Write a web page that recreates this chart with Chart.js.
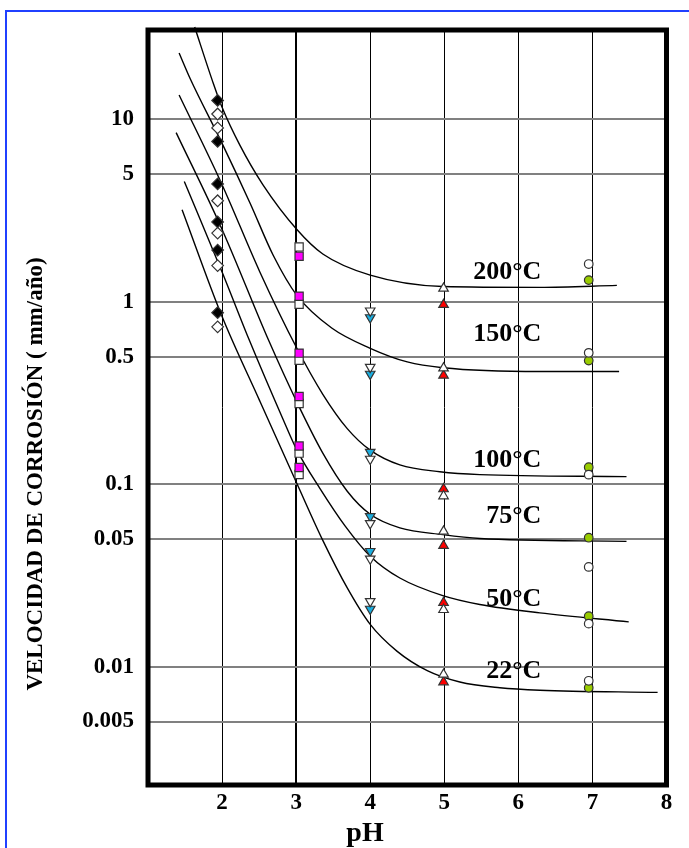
<!DOCTYPE html>
<html>
<head>
<meta charset="utf-8">
<script src="https://cdn.jsdelivr.net/npm/chart.js@4.4.0/dist/chart.umd.min.js"></script>
<style>
  html, body { margin: 0; padding: 0; background: #fff; overflow: hidden; }
  #wrap { position: relative; width: 689px; height: 848px; }
  #frame { position: absolute; left: 5px; top: 10px; width: 720px; height: 880px;
           border-left: 2px solid #2040ff; border-top: 2px solid #2040ff; }
  #myChart { position: absolute; left: 0; top: 0; }
</style>
</head>
<body>
<div id="wrap">
  <div id="frame"></div>
  <canvas id="myChart" width="689" height="848"></canvas>
</div>
<script>
var xTicks = [2, 3, 4, 5, 6, 7, 8];
var yTicks = [0.005, 0.01, 0.05, 0.1, 0.5, 1, 5, 10];
var yTickLabels = ['0.005', '0.01', '0.05', '0.1', '0.5', '1', '5', '10'];

var temps = ['200°C', '150°C', '100°C', '75°C', '50°C', '22°C'];

// fitted curves (pH, mm/año)
var curvePH = [
  [1.63, 1.87, 2.0, 2.24, 2.55, 3.01, 3.36, 4.0, 4.98, 6.29, 7.33],
  [1.42, 1.57, 2.0, 2.38, 2.69, 3.01, 3.48, 4.0, 4.5, 4.98, 6.29, 7.36],
  [1.42, 2.0, 2.51, 3.01, 3.36, 3.69, 4.0, 4.4, 4.94, 5.48, 7.46],
  [1.38, 2.0, 2.63, 3.01, 3.36, 3.69, 4.0, 4.4, 4.98, 5.48, 7.46],
  [1.49, 2.0, 2.37, 2.82, 3.01, 3.32, 3.66, 4.0, 4.4, 4.98, 5.48, 6.29, 7.49],
  [1.46, 2.0, 2.51, 3.01, 3.36, 3.69, 4.0, 4.36, 4.77, 5.21, 5.75, 6.29, 7.88]
];
var curveVal = [
  [32.1, 16.26, 11.64, 7.22, 4.39, 2.49, 1.828, 1.40, 1.213, 1.20, 1.23],
  [23.1, 16.7, 7.39, 3.46, 1.80, 1.084, 0.718, 0.556, 0.468, 0.435, 0.415, 0.415],
  [13.6, 4.385, 1.458, 0.556, 0.3112, 0.2018, 0.1537, 0.1276, 0.117, 0.1128, 0.110],
  [8.46, 2.493, 0.613, 0.2818, 0.148, 0.0915, 0.0684, 0.0576, 0.0529, 0.0504, 0.0486],
  [4.56, 1.458, 0.613, 0.2284, 0.1537, 0.0949, 0.0591, 0.0403, 0.0306, 0.0245, 0.0219, 0.0197, 0.0176],
  [3.20, 0.830, 0.2854, 0.1009, 0.0492, 0.027, 0.01703, 0.01216, 0.0095, 0.00823, 0.00766, 0.00742, 0.00722]
];

// measured points, one per temperature (200, 150, 100, 75, 50, 22 °C)
var diamondPH = 1.94;
var diamondFilled = [12.7, 7.57, 4.43, 2.74, 1.92, 0.872];
var diamondOpen = [10.7, 8.98, 3.58, 2.38, 1.58, 0.729];
var squarePH = 3.04;
var squareMagenta = [1.776, 1.073, 0.523, 0.3025, 0.162, 0.1235];
var squareWhite = [2.0, 0.969, 0.478, 0.277, 0.148, 0.113];
var triDownPH = 4.0;
var triDownWhite = [0.893, 0.4385, 0.1375, 0.061, 0.039, 0.0228];
var triDownCyan = [0.820, 0.402, 0.150, 0.0667, 0.0429, 0.0207];
var triUpPH = 4.99;
var triUpWhite = [1.185, 0.433, 0.0861, 0.0551, 0.0205, 0.00906];
var triUpRed = [0.964, 0.395, 0.0941, 0.046, 0.0224, 0.00823];
var circlePH = 6.95;
var circleWhite = [1.61, 0.525, 0.1128, 0.0352, 0.0172, 0.00836];
var circleGreen = [1.315, 0.476, 0.124, 0.0509, 0.0189, 0.00766];

// where the temperature names sit
var labelPH = 6.31;
var labelVal = [1.458, 0.667, 0.136, 0.0667, 0.02326, 0.00939];

function pts(xs, ys) {
  return xs.map(function (x, i) { return {x: x, y: ys[i]}; });
}
function atPH(x, ys) {
  return ys.map(function (y) { return {x: x, y: y}; });
}

var datasets = [];
curvePH.forEach(function (xs, i) {
  datasets.push({
    label: temps[i],
    data: pts(xs, curveVal[i]),
    showLine: true,
    borderColor: '#000',
    borderWidth: 1.4,
    pointRadius: 0,
    cubicInterpolationMode: 'monotone',
    clip: false,
    order: 2
  });
});

function markers(data, style, fill, radius, rotation) {
  return {
    data: data,
    pointStyle: style,
    pointRadius: radius,
    pointRotation: rotation || 0,
    backgroundColor: fill,
    borderColor: '#333',
    pointBorderWidth: 1.2,
    order: 1
  };
}
datasets.push(markers(atPH(diamondPH, diamondFilled), 'rectRot', '#000', 5.8));
datasets.push(markers(atPH(diamondPH, diamondOpen), 'rectRot', '#fff', 5.8));
datasets.push(markers(atPH(squarePH, squareMagenta), 'rect', '#ff00ff', 5.8));
datasets.push(markers(atPH(squarePH, squareWhite), 'rect', '#fff', 5.8));
datasets.push(markers(atPH(triDownPH, triDownWhite), 'triangle', '#fff', 5.5, 180));
datasets.push(markers(atPH(triDownPH, triDownCyan), 'triangle', '#1aaee0', 5.5, 180));
datasets.push(markers(atPH(triUpPH, triUpWhite), 'triangle', '#fff', 5.5));
datasets.push(markers(atPH(triUpPH, triUpRed), 'triangle', '#ff0000', 5.5));
datasets.push(markers(atPH(circlePH, circleWhite), 'circle', '#fff', 4.3));
datasets.push(markers(atPH(circlePH, circleGreen), 'circle', '#99cc00', 4.3));

var tickFont = {family: 'Liberation Serif', weight: 'bold', size: 23};

var textPlugin = {
  id: 'texts',
  afterDraw: function (chart) {
    var ctx = chart.ctx, a = chart.chartArea;
    var xs = chart.scales.x, ys = chart.scales.y;
    ctx.save();
    ctx.lineWidth = 5;
    ctx.strokeStyle = '#000';
    ctx.strokeRect(a.left, a.top, a.right - a.left, a.bottom - a.top);

    ctx.fillStyle = '#000';
    ctx.font = 'bold 26px "Liberation Serif"';
    ctx.textAlign = 'right';
    ctx.textBaseline = 'middle';
    temps.forEach(function (t, i) {
      ctx.fillText(t, xs.getPixelForValue(labelPH), ys.getPixelForValue(labelVal[i]));
    });

    ctx.textAlign = 'center';
    ctx.font = 'bold 28px "Liberation Serif"';
    ctx.fillText('pH', 365, 834);

    ctx.translate(36, 474);
    ctx.rotate(-Math.PI / 2);
    ctx.font = 'bold 23px "Liberation Serif"';
    ctx.fillText('VELOCIDAD DE CORROSIÓN ( mm/año)', 0, 0);
    ctx.restore();
  }
};

var ctx = document.getElementById('myChart').getContext('2d');
var myChart = new Chart(ctx, {
  type: 'scatter',
  data: { datasets: datasets },
  plugins: [textPlugin],
  options: {
    responsive: false,
    animation: false,
    devicePixelRatio: 1,
    layout: { padding: { top: 30, right: 22.5, left: 0, bottom: 0 } },
    plugins: {
      legend: { display: false },
      tooltip: { enabled: false }
    },
    scales: {
      x: {
        type: 'linear',
        min: 1,
        max: 8,
        afterBuildTicks: function (s) { s.ticks = xTicks.map(function (v) { return {value: v}; }); },
        afterFit: function (s) { s.height = 63; },
        border: { display: false },
        grid: {
          drawTicks: false,
          color: '#000',
          lineWidth: function (c) { return c.tick && c.tick.value === 3 ? 2 : 1; }
        },
        ticks: { padding: 4, color: '#000', font: tickFont }
      },
      y: {
        type: 'logarithmic',
        min: 0.002244,
        max: 30.9,
        afterBuildTicks: function (s) { s.ticks = yTicks.map(function (v) { return {value: v}; }); },
        afterFit: function (s) { s.width = 148; },
        border: { display: false },
        grid: { drawTicks: false, color: '#808080', lineWidth: 2 },
        ticks: {
          padding: 14,
          color: '#000',
          font: tickFont,
          callback: function (v, i) { return yTickLabels[i]; }
        }
      }
    }
  }
});
</script>
</body>
</html>
